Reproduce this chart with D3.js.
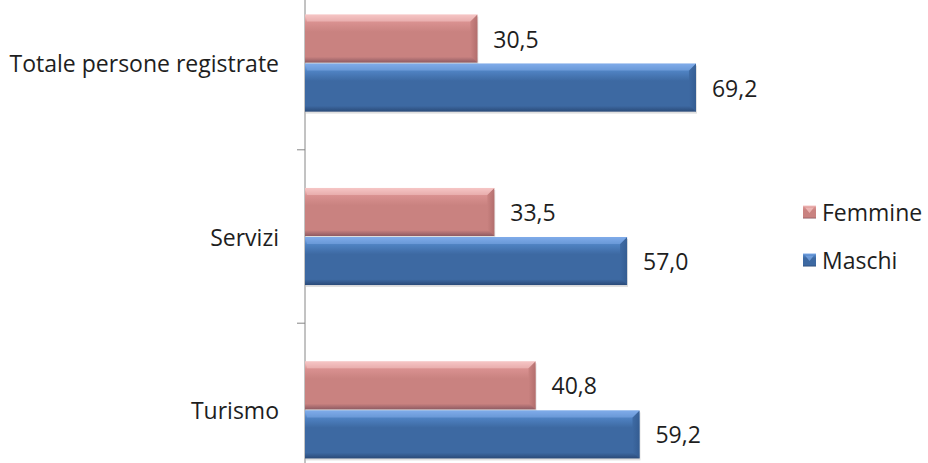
<!DOCTYPE html>
<html>
<head>
<meta charset="utf-8">
<script src="https://cdn.jsdelivr.net/npm/d3@7/dist/d3.min.js"></script>
<style>
  html, body { margin: 0; padding: 0; background: #fff; }
  svg { display: block; }
  text { font-family: "Open Sans", "Noto Sans", sans-serif; fill: #1e1e1e; }
</style>
</head>
<body>
<svg id="chart" width="928" height="463"></svg>
<script>
// Categories (top to bottom) and series values (percent)
const categories = ["Totale persone registrate", "Servizi", "Turismo"];
const seriesNames = ["Femmine", "Maschi"];
const femmine = [30.5, 33.5, 40.8];
const maschi = [69.2, 57.0, 59.2];

const seriesValues = [femmine, maschi];

const svg = d3.select("#chart");
const fontSize = "23px";

const itLocale = d3.formatLocale({ decimal: ",", thousands: ".", grouping: [3], currency: ["€", ""] });
const fmt = itLocale.format(".1f");

// Scales: value axis runs 0–100, category axis extends slightly past the visible area
const x = d3.scaleLinear().domain([0, 100]).range([305, 870]);
const y = d3.scaleBand().domain(categories).range([-23.6, 496.6]).paddingInner(0.44).paddingOuter(0.22);
const ySub = d3.scaleBand().domain(seriesNames).range([0, y.bandwidth()]).paddingInner(0.02);

const palette = {
  Femmine: { top: "#f6c6c5", mid: "#d99190", body: "#c98280", bottom: "#8e5a62", bevel: "#b06c6b" },
  Maschi:  { top: "#80acea", mid: "#4f82c2", body: "#3d69a2", bottom: "#2a4a78", bevel: "#335b90" }
};

const defs = svg.append("defs");
seriesNames.forEach(s => {
  const c = palette[s];
  const g = defs.append("linearGradient").attr("id", "grad-" + s)
    .attr("x1", 0).attr("y1", 0).attr("x2", 0).attr("y2", 1);
  g.append("stop").attr("offset", "0%").attr("stop-color", c.top);
  g.append("stop").attr("offset", "16%").attr("stop-color", c.mid);
  g.append("stop").attr("offset", "36%").attr("stop-color", c.body);
  g.append("stop").attr("offset", "88%").attr("stop-color", c.body);
  g.append("stop").attr("offset", "100%").attr("stop-color", c.bottom);
  const gb = defs.append("linearGradient").attr("id", "bevel-" + s)
    .attr("x1", 0).attr("y1", 0).attr("x2", 1).attr("y2", 0);
  gb.append("stop").attr("offset", "0%").attr("stop-color", c.body);
  gb.append("stop").attr("offset", "100%").attr("stop-color", c.bevel);
});

// Category axis line with ticks between groups
const axisG = svg.append("g");
axisG.append("line")
  .attr("x1", x(0)).attr("x2", x(0))
  .attr("y1", y.range()[0]).attr("y2", y.range()[1])
  .attr("stroke", "#868686").attr("stroke-width", 1);
const step = y.step();
categories.slice(1).forEach(c => {
  const ty = y(c) - step * y.paddingInner() / 2;
  axisG.append("line")
    .attr("x1", x(0) - 8).attr("x2", x(0))
    .attr("y1", ty).attr("y2", ty)
    .attr("stroke", "#868686").attr("stroke-width", 1);
});

// Category labels
svg.append("g").selectAll("text").data(categories).join("text")
  .attr("x", 279)
  .attr("y", d => y(d) + y.bandwidth() / 2)
  .attr("text-anchor", "end")
  .attr("dominant-baseline", "central")
  .style("font-size", fontSize)
  .text(d => d);

// Bars
const bev = 7;
const groups = svg.append("g").selectAll("g").data(categories).join("g")
  .attr("transform", d => `translate(0,${y(d)})`);

groups.each(function (cat, i) {
  const g = d3.select(this);
  seriesNames.forEach((s, si) => {
    const v = seriesValues[si][i];
    const x0 = x(0), x1 = x(v);
    const y0 = ySub(s), h = ySub.bandwidth();
    const c = palette[s];
    // shadow
    g.append("rect")
      .attr("x", x0 + 1).attr("y", y0 + 2).attr("width", x1 - x0).attr("height", h)
      .attr("fill", "#000").attr("opacity", 0.12);
    // body
    g.append("rect")
      .attr("x", x0).attr("y", y0).attr("width", x1 - x0).attr("height", h)
      .attr("fill", `url(#grad-${s})`);
    // right-end bevel
    g.append("path")
      .attr("d", `M${x1 - bev},${y0 + bev}L${x1},${y0}L${x1},${y0 + h}L${x1 - bev},${y0 + h - bev}Z`)
      .attr("fill", `url(#bevel-${s})`).attr("opacity", 0.9);
    g.append("path")
      .attr("d", `M${x0},${y0}L${x1},${y0}L${x1 - bev},${y0 + bev}L${x0 + 2},${y0 + bev}Z`)
      .attr("fill", c.top).attr("opacity", 0.5);
    // value label
    g.append("text")
      .attr("x", x1 + 16)
      .attr("y", y0 + h / 2)
      .attr("dominant-baseline", "central")
      .style("font-size", fontSize)
      .text(fmt(v));
  });
});

// Legend
const legend = svg.append("g").attr("transform", "translate(803,0)");
const legendY = [212, 260];
seriesNames.forEach((s, si) => {
  const lg = legend.append("g").attr("transform", `translate(0,${legendY[si]})`);
  lg.append("rect").attr("x", 0).attr("y", -6.5).attr("width", 13).attr("height", 13)
    .attr("fill", `url(#grad-${s})`);
  lg.append("path").attr("d", "M2,-4.5L11,-4.5L6.5,1Z").attr("fill", palette[s].top).attr("opacity", 0.7);
  lg.append("text").attr("x", 19).attr("y", 0)
    .attr("dominant-baseline", "central")
    .style("font-size", fontSize)
    .text(s);
});
</script>
</body>
</html>
